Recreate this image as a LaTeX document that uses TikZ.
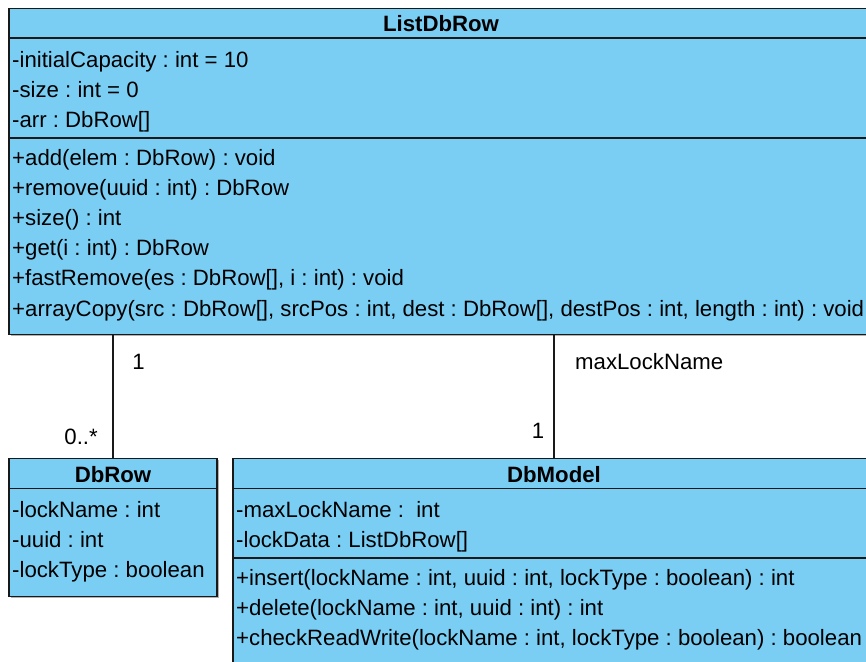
\documentclass[tikz,border=0pt]{standalone}
\usepackage{fontspec}
\setmainfont{Liberation Sans}
\usetikzlibrary{shadows}
\definecolor{classfill}{RGB}{122,206,244}
\definecolor{edge}{RGB}{25,25,25}
\frenchspacing
\begin{document}
\begin{tikzpicture}[x=1pt,y=-1pt,
  classbox/.style={draw=edge, line width=1.6pt, fill=classfill, inner sep=0pt,
    outer sep=0pt, anchor=north west,
    drop shadow={shadow xshift=1.5pt, shadow yshift=-1.5pt, fill=black, opacity=0.3}},
  compart/.style={draw=edge, line width=1.6pt},
  member/.style={anchor=base west, inner sep=0pt, font=\fontsize{22.2}{26}\selectfont},
  classname/.style={anchor=base, inner sep=0pt, font=\fontsize{22.2}{26}\selectfont\bfseries},
  assoc/.style={draw=edge, line width=1.8pt},
  mult/.style={inner sep=0pt, font=\fontsize{22.2}{26}\selectfont}]
\useasboundingbox (0,0) rectangle (866,661);
\clip (0,0) rectangle (866,661);

% ---------- ListDbRow ----------
\node[classbox, minimum width=864, minimum height=326] (list) at (9,8.5) {};
\draw[compart] ([yshift=-29.5pt]list.north west) -- ([yshift=-29.5pt]list.north east);
\node[classname] (listname) at (441,31.5) {ListDbRow};
\draw[compart] ([yshift=-129.5pt]list.north west) -- ([yshift=-129.5pt]list.north east);
\node[member] (la1) at (12,67) {-initialCapacity : int = 10};
\node[member] (la2) at (12,97) {-size : int = 0};
\node[member] (la3) at (12,127) {-arr : DbRow[]};
\node[member] (lo1) at (12,165) {+add(elem : DbRow) : void};
\node[member] (lo2) at (12,195) {+remove(uuid : int) : DbRow};
\node[member] (lo3) at (12,225) {+size() : int};
\node[member] (lo4) at (12,255) {+get(i : int) : DbRow};
\node[member] (lo5) at (12,285) {+fastRemove(es : DbRow[], i : int) : void};
\node[member] (lo6) at (12,316) {+arrayCopy(src : DbRow[], srcPos : int, dest : DbRow[], destPos : int, length : int) : void};

% ---------- DbRow ----------
\node[classbox, minimum width=208, minimum height=138] (dbrow) at (9,458.5) {};
\draw[compart] ([yshift=-30pt]dbrow.north west) -- ([yshift=-30pt]dbrow.north east);
\node[classname] (dbrowname) at (113,482) {DbRow};
\node[member] (ra1) at (12,517) {-lockName : int};
\node[member] (ra2) at (12,547) {-uuid : int};
\node[member] (ra3) at (12,577) {-lockType : boolean};

% ---------- DbModel ----------
\node[classbox, minimum width=642, minimum height=230] (dbmodel) at (233,458.5) {};
\draw[compart] ([yshift=-30pt]dbmodel.north west) -- ([yshift=-30pt]dbmodel.north east);
\draw[compart] ([yshift=-99.5pt]dbmodel.north west) -- ([yshift=-99.5pt]dbmodel.north east);
\node[classname] (dbmodelname) at (554,482) {DbModel};
\node[member] (ma1) at (236,517) {-maxLockName : \ int};
\node[member] (ma2) at (236,547) {-lockData : ListDbRow[]};
\node[member] (mo1) at (236,585) {+insert(lockName : int, uuid : int, lockType : boolean) : int};
\node[member] (mo2) at (236,615) {+delete(lockName : int, uuid : int) : int};
\node[member] (mo3) at (236,645) {+checkReadWrite(lockName : int, lockType : boolean) : boolean};

% ---------- associations ----------
\draw[assoc] (list.south -| dbrow.north) -- (dbrow.north);
\draw[assoc] (list.south -| dbmodel.north) -- (dbmodel.north);

\node[mult, anchor=base] (m1) at (138.5,369) {1};
\node[mult, anchor=base east] (m2) at (98,444) {0..*};
\node[mult, anchor=base west] (m3) at (575,369) {maxLockName};
\node[mult, anchor=base] (m4) at (538,438) {1};
\end{tikzpicture}
\end{document}
